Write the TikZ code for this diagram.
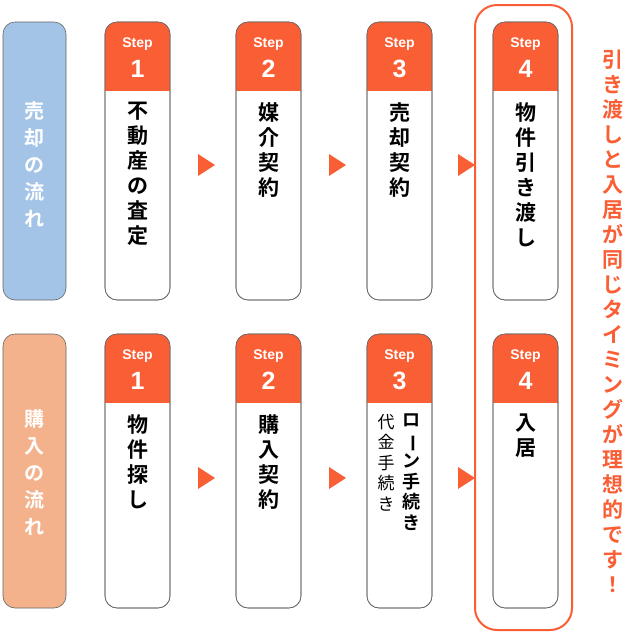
\documentclass[tikz,border=0pt]{standalone}
\usepackage{fontspec}
\newfontfamily\jp{Noto Sans CJK JP}[BoldFont={Noto Sans CJK JP Bold}]
\setsansfont{Liberation Sans}
\definecolor{orng}{HTML}{F95E35}
\definecolor{blu}{HTML}{A3C4E6}
\definecolor{pch}{HTML}{F4B28C}
\newcommand{\myvbar}{\rotatebox[origin=c]{-90}{ー}}
\begin{document}
\begin{tikzpicture}[x=1pt,y=-1pt,
 lbl/.style={draw=black!60,rounded corners=12pt,line width=0.6pt},
 card/.style={draw=black!60,rounded corners=12pt,fill=white,line width=0.6pt},
 vtxt/.style={font=\jp\bfseries\fontsize{21}{25}\selectfont,align=center,anchor=north,inner sep=0pt},
 tri/.style={fill=orng}]
\useasboundingbox (0,0) rectangle (637,638);
% left labels
\draw[lbl,fill=blu] (3,22) rectangle (66,300);
\draw[lbl,fill=pch] (3,334) rectangle (66,608);
\node (l1) [vtxt,text=white,anchor=center,font=\jp\bfseries\fontsize{20}{27}\selectfont] at (34.5,165) {売\\却\\の\\流\\れ};
\node (l2) [vtxt,text=white,anchor=center,font=\jp\bfseries\fontsize{20}{27}\selectfont] at (34.5,473) {購\\入\\の\\流\\れ};
% cards
\foreach \x/\n in {105/1,236/2,367/3,493/4}{
 \foreach \y/\b/\r in {22/300/a,334/608/b}{
  \begin{scope}
  \draw[card] (\x,\y) rectangle (\x+65,\b);
  \clip[rounded corners=12pt] (\x,\y) rectangle (\x+65,\b);
  \fill[orng] (\x,\y) rectangle (\x+65,\y+69);
  \end{scope}
  \draw[draw=black!60,rounded corners=12pt,line width=0.6pt] (\x,\y) rectangle (\x+65,\b);
  \node (h\n\r) [text=white,font=\sffamily\bfseries\fontsize{14}{14}\selectfont] at (\x+32.5,\y+22) {Step};
  \node (n\n\r) [text=white,font=\sffamily\bfseries\fontsize{25}{25}\selectfont] at (\x+32.5,\y+47) {\n};
 }}
% texts
\node (t1a) [vtxt] at (137.5,102) {不\\動\\産\\の\\査\\定};
\node (t2a) [vtxt] at (268.5,102) {媒\\介\\契\\約};
\node (t3a) [vtxt] at (399.5,102) {売\\却\\契\\約};
\node (t4a) [vtxt] at (525.5,102) {物\\件\\引\\き\\渡\\し};
\node (t1b) [vtxt] at (137.5,414) {物\\件\\探\\し};
\node (t2b) [vtxt] at (268.5,414) {購\\入\\契\\約};
\node (t3b) [vtxt,font=\jp\bfseries\fontsize{18}{20.5}\selectfont] at (411,414) {ロ\\\myvbar\\ン\\手\\続\\き};
\node (t3c) [vtxt,font=\jp\fontsize{17}{20.5}\selectfont] at (386,414) {代\\金\\手\\続\\き};
\node (t4b) [vtxt] at (525.5,414) {入\\居};
% arrows
\foreach \x in {198,329,458}{
 \fill[tri] (\x,154) -- (\x+17,165) -- (\x,176) -- cycle;
 \fill[tri] (\x,467) -- (\x+17,478) -- (\x,489) -- cycle;
}
% highlight
\draw[orng,line width=2pt,rounded corners=22pt] (475,5) rectangle (572,630);
\node (side) [vtxt,text=orng,font=\jp\bfseries\fontsize{21}{25}\selectfont] at (613,50)
 {引\\き\\渡\\し\\と\\入\\居\\が\\同\\じ\\タ\\イ\\ミ\\ン\\グ\\が\\理\\想\\的\\で\\す\\！};
\end{tikzpicture}
\end{document}
